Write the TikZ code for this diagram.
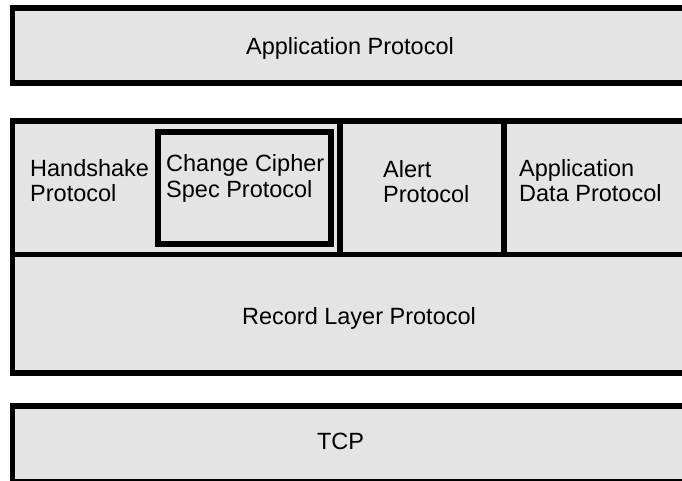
\documentclass[tikz,border=0pt]{standalone}
\usepackage{fontspec}
\setmainfont{Liberation Sans}
\begin{document}
\begin{tikzpicture}[x=1pt,y=-1pt,
  layer/.style={fill=layergray,draw=black,line width=5.5pt},
  rule/.style={draw=black,line width=5.5pt},
  lbl/.style={inner sep=0pt,font=\fontsize{23.5}{25.5}\selectfont,align=left}]
\definecolor{layergray}{HTML}{E4E4E4}
\useasboundingbox (0,0) rectangle (682,481);
\clip (0,0) rectangle (682,481);

% protocol layers
\path[layer] (12.5,8) rectangle (688,83);
\path[layer] (12.5,121) rectangle (688,254.5);
\path[layer] (12.5,254.5) rectangle (688,373);
\path[layer] (12.5,406) rectangle (688,482);

% sub-protocols of the upper record layer
\path[layer] (158,132) rectangle (331,244);
\draw[rule] (340,121) -- (340,254.5);
\draw[rule] (504,121) -- (504,254.5);

% labels (multi-line labels are anchored on their last baseline)
\node[lbl,anchor=base] (app) at (350,54.3) {Application Protocol};
\node[lbl,anchor=base west] (hs) at (30,201.7) {Handshake\\Protocol};
\node[lbl,anchor=base west] (ccs) at (166,197) {Change Cipher\\Spec Protocol};
\node[lbl,anchor=base west] (alert) at (383,202.7) {Alert\\Protocol};
\node[lbl,anchor=base west] (appdata) at (519,201.7) {Application\\Data Protocol};
\node[lbl,anchor=base] (record) at (359,324.3) {Record Layer Protocol};
\node[lbl,anchor=base] (tcp) at (340.5,449.3) {TCP};
\end{tikzpicture}
\end{document}
